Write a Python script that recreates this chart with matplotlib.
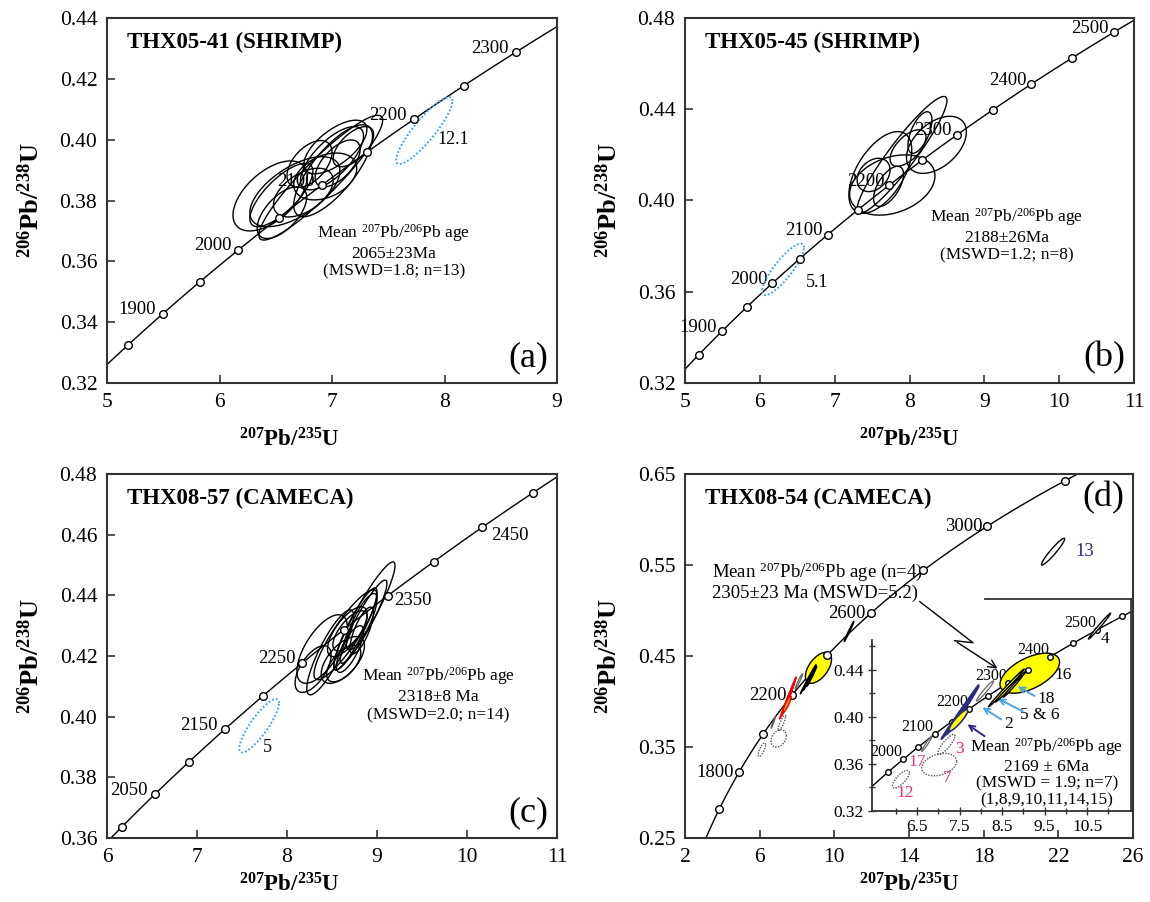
import numpy as np
import matplotlib
matplotlib.use("Agg")
import matplotlib.pyplot as plt

plt.rcParams['font.family'] = ['Liberation Serif', 'DejaVu Serif']
plt.rcParams['mathtext.fontset'] = 'custom'
plt.rcParams['mathtext.rm'] = 'Liberation Serif'
plt.rcParams['mathtext.bf'] = 'Liberation Serif:bold'
plt.rcParams['mathtext.it'] = 'Liberation Serif:italic'

# decay constants (per Ma) for the concordia curve
L238 = 1.55125e-4
L235 = 9.8485e-4

# ---- concordia marker ages and labelled ages ----
a_marks = [1850, 1900, 1950, 2000, 2050, 2100, 2150, 2200, 2250, 2300, 2350]
a_labels = [1900, 2000, 2100, 2200, 2300]
b_marks = [1850, 1900, 1950, 2000, 2050, 2100, 2150, 2200, 2250, 2300, 2350, 2400, 2450, 2500]
b_labels = [1900, 2000, 2100, 2200, 2300, 2400, 2500]
c_marks = [2000, 2050, 2100, 2150, 2200, 2250, 2300, 2350, 2400, 2450, 2500]
c_labels = [2050, 2150, 2250, 2350, 2450]
d_marks = [1600, 1800, 2000, 2200, 2400, 2600, 2800, 3000, 3200]
d_labels = [1800, 2200, 2600, 3000]
in_marks = [1950, 2000, 2050, 2100, 2150, 2200, 2250, 2300, 2350, 2400, 2450, 2500, 2550]
in_labels = [2000, 2100, 2200, 2300, 2400, 2500]

# ---- error ellipses: centre x, centre y, half-width x, half-width y, correlation ----
a_cx = [6.45, 6.90, 7.01, 6.67, 6.745, 7.00, 6.94, 7.19, 6.555, 6.55, 6.80, 7.05, 7.03]
a_cy = [0.3815, 0.3875, 0.3898, 0.3829, 0.3826, 0.3939, 0.3879, 0.3977, 0.3760, 0.3818, 0.3920, 0.3922, 0.3976]
a_sx = [0.33, 0.55, 0.35, 0.40, 0.265, 0.28, 0.28, 0.18, 0.22, 0.28, 0.20, 0.20, 0.28]
a_sy = [0.0115, 0.0205, 0.0151, 0.0115, 0.008, 0.0104, 0.0077, 0.0066, 0.0085, 0.0104, 0.0077, 0.0077, 0.0088]
a_rho = [0.55, 0.92, 0.75, 0.6, 0.5, 0.7, 0.35, 0.6, 0.6, 0.75, 0.5, 0.6, 0.65]
a_out = (7.82, 0.403, 0.25, 0.011, 0.88)   # spot 12.1

b_cx = [7.61, 7.77, 7.90, 8.36, 8.14, 7.52, 7.72, 7.98]
b_cy = [0.4123, 0.4068, 0.4200, 0.4244, 0.4298, 0.4112, 0.4062, 0.4230]
b_sx = [0.42, 0.57, 0.60, 0.40, 0.16, 0.22, 0.20, 0.24]
b_sy = [0.0179, 0.0132, 0.0256, 0.0125, 0.0091, 0.0073, 0.0088, 0.0080]
b_rho = [0.55, 0.3, 0.93, 0.45, 0.6, 0.3, 0.6, 0.6]
b_out = (6.31, 0.3698, 0.28, 0.0113, 0.85)   # spot 5.1

c_cx = [8.86, 8.85, 8.39, 8.48, 8.65, 8.76, 8.67, 8.70, 8.83, 8.62, 8.29, 8.83, 8.63, 8.70]
c_cy = [0.4332, 0.4313, 0.4223, 0.4212, 0.4270, 0.4289, 0.4280, 0.4223, 0.4313, 0.4187, 0.4157, 0.4284, 0.4175, 0.4283]
c_sx = [0.34, 0.26, 0.28, 0.26, 0.35, 0.24, 0.22, 0.15, 0.17, 0.24, 0.20, 0.13, 0.19, 0.19]
c_sy = [0.0178, 0.0137, 0.0113, 0.0140, 0.0148, 0.0135, 0.0082, 0.0077, 0.0093, 0.0077, 0.0077, 0.0077, 0.0060, 0.0066]
c_rho = [0.93, 0.92, 0.65, 0.85, 0.88, 0.9, 0.7, 0.75, 0.8, 0.6, 0.6, 0.75, 0.6, 0.7]
c_out = (7.69, 0.397, 0.22, 0.0088, 0.85)   # spot 5

# THX08-54 spots
d_mean_cx = [7.45, 7.55, 7.50, 7.60, 7.42, 7.52, 7.47]
d_mean_cy = [0.400, 0.405, 0.402, 0.407, 0.398, 0.403, 0.397]
d_mean_sx = [0.38, 0.40, 0.30, 0.35, 0.25, 0.33, 0.22]
d_mean_sy = [0.019, 0.021, 0.016, 0.020, 0.013, 0.018, 0.009]
d_mean_rho = [0.995, 0.995, 0.99, 0.995, 0.99, 0.993, 0.9]
d_old = {'16': (9.15, 0.437, 0.70, 0.017, 0.55),
         '5': (8.60, 0.4245, 0.42, 0.016, 0.995),
         '6': (8.70, 0.4255, 0.36, 0.013, 0.993),
         '18': (8.75, 0.4257, 0.22, 0.009, 0.99)}
d_thin = {'2': (8.10, 0.422, 0.20, 0.0085, 0.97),
          '17': (6.73, 0.3771, 0.12, 0.0065, 0.97)}
d_dotted = {'3': (7.19, 0.3765, 0.20, 0.0085, 0.85),
            '7': (7.02, 0.3594, 0.41, 0.0095, 0.3),
            '12': (6.12, 0.347, 0.20, 0.0075, 0.75)}
d_other = {'4': (10.79, 0.477, 0.26, 0.011, 0.99),
           '13': (21.72, 0.5647, 0.62, 0.0147, 0.95)}

W, H = 1150, 902
fig = plt.figure(figsize=(W / 100, H / 100), dpi=100)

SPINE = '#333333'
BLUE = '#4aa6e0'
NAVY = '#2b2b80'
PINK = '#e0307a'


def concordia(t):
    t = np.asarray(t, dtype=float)
    return np.exp(L235 * t) - 1, np.exp(L238 * t) - 1


def ellipse(ax, cx, cy, sx, sy, rho, fc='none', ec='k', lw=1.0, ls='-', z=3):
    t = np.linspace(0, 2 * np.pi, 240)
    x = cx + sx * np.cos(t)
    y = cy + sy * (rho * np.cos(t) + np.sqrt(1 - rho ** 2) * np.sin(t))
    ax.fill(x, y, facecolor=fc, edgecolor=ec, lw=lw, ls=ls, zorder=z)


def frame(ax, xlim, ylim, xticks, yticks, fs=15.5):
    ax.set_xlim(xlim)
    ax.set_ylim(ylim)
    ax.set_xticks(xticks)
    ax.set_yticks(yticks)
    for s in ax.spines.values():
        s.set_color(SPINE)
        s.set_linewidth(1.5)
    ax.tick_params(direction='in', length=6, width=1.2, color=SPINE, labelsize=fs, pad=7)


def draw_curve(ax, marks, labels, ms=5.5, off=(-7, 4), ha='right', fs=13.5, special=None):
    t = np.linspace(1000, 4000, 1500)
    x, y = concordia(t)
    ax.plot(x, y, color='k', lw=1.0, zorder=2)
    mx, my = concordia(marks)
    ax.plot(mx, my, 'o', ms=ms, mfc='white', mec='k', mew=1.0, zorder=4)
    for age in labels:
        lx, ly = concordia(age)
        o, h = off, ha
        if special and age in special:
            o, h = special[age]
        ax.annotate(str(age), xy=(lx, ly), xytext=o, textcoords='offset pixels',
                    ha=h, va='center', fontsize=fs, zorder=3)


def labels(ax, xlx, xly):
    ax.text(xlx, xly, r"$^{\mathbf{207}}$Pb/$^{\mathbf{235}}$U", transform=ax.transAxes,
            ha='center', va='center', fontsize=16.5, fontweight='bold')
    ax.text(-0.17, 0.5, r"$^{\mathbf{206}}$Pb/$^{\mathbf{238}}$U", transform=ax.transAxes,
            ha='center', va='center', fontsize=19, fontweight='bold', rotation=90)


def title(ax, txt, tag, tag_y):
    ax.text(0.045, 0.934, txt, transform=ax.transAxes, ha='left', va='center',
            fontsize=16.5, fontweight='bold')
    ax.text(0.98, tag_y, tag, transform=ax.transAxes, ha='right', va='center', fontsize=26)


def mean_text(ax, x, y, age_txt, mswd_txt, fs=12.5):
    ax.text(x, y, "Mean $^{207}$Pb/$^{206}$Pb age\n" + age_txt + "\n" + mswd_txt,
            ha='center', va='center', fontsize=fs, linespacing=1.15, zorder=5)


# ---------------- (a) ----------------
ax = fig.add_axes([107 / W, 1 - 383 / H, 450 / W, 365 / H])
frame(ax, (5, 9), (0.32, 0.44), [5, 6, 7, 8, 9], np.arange(0.32, 0.4401, 0.02))
ax.yaxis.set_major_formatter(matplotlib.ticker.FormatStrFormatter('%.2f'))
draw_curve(ax, a_marks, a_labels)
for i in range(len(a_cx)):
    ellipse(ax, a_cx[i], a_cy[i], a_sx[i], a_sy[i], a_rho[i])
ellipse(ax, *a_out, ec=BLUE, lw=1.4, ls=(0, (1, 1)))
ax.text(8.08, 0.400, "12.1", ha='center', va='center', fontsize=13)
mean_text(ax, 7.55, 0.3635, "2065±23Ma", "(MSWD=1.8; n=13)")
title(ax, "THX05-41 (SHRIMP)", "(a)", 0.07)
labels(ax, 0.404, -0.156)

# ---------------- (b) ----------------
ax = fig.add_axes([685 / W, 1 - 383 / H, 449 / W, 365 / H])
frame(ax, (5, 11), (0.32, 0.48), [5, 6, 7, 8, 9, 10, 11], [0.32, 0.36, 0.40, 0.44, 0.48])
ax.yaxis.set_major_formatter(matplotlib.ticker.FormatStrFormatter('%.2f'))
draw_curve(ax, b_marks, b_labels, off=(-5, 4))
for i in range(len(b_cx)):
    ellipse(ax, b_cx[i], b_cy[i], b_sx[i], b_sy[i], b_rho[i])
ellipse(ax, *b_out, ec=BLUE, lw=1.4, ls=(0, (1, 1)))
ax.text(6.77, 0.364, "5.1", ha='center', va='center', fontsize=13)
mean_text(ax, 9.30, 0.3849, "2188±26Ma", "(MSWD=1.2; n=8)")
title(ax, "THX05-45 (SHRIMP)", "(b)", 0.07)
labels(ax, 0.50, -0.156)

# ---------------- (c) ----------------
ax = fig.add_axes([107 / W, 1 - 838 / H, 450 / W, 364 / H])
frame(ax, (6, 11), (0.36, 0.48), [6, 7, 8, 9, 10, 11], np.arange(0.36, 0.4801, 0.02))
ax.yaxis.set_major_formatter(matplotlib.ticker.FormatStrFormatter('%.2f'))
draw_curve(ax, c_marks, c_labels,
           special={2350: ((6, -5), 'left'), 2450: ((9, -8), 'left')})
for i in range(len(c_cx)):
    ellipse(ax, c_cx[i], c_cy[i], c_sx[i], c_sy[i], c_rho[i])
ellipse(ax, *c_out, ec=BLUE, lw=1.4, ls=(0, (1, 1)))
ax.text(7.78, 0.3898, "5", ha='center', va='center', fontsize=13)
mean_text(ax, 9.685, 0.4074, "2318±8 Ma", "(MSWD=2.0; n=14)")
title(ax, "THX08-57 (CAMECA)", "(c)", 0.07)
labels(ax, 0.404, -0.129)

# ---------------- (d) main ----------------
ax = fig.add_axes([685 / W, 1 - 838 / H, 448 / W, 364 / H])
frame(ax, (2, 26), (0.25, 0.65), [2, 6, 10, 14, 18, 22, 26], [0.25, 0.35, 0.45, 0.55, 0.65])
ax.yaxis.set_major_formatter(matplotlib.ticker.FormatStrFormatter('%.2f'))
draw_curve(ax, d_marks, d_labels, off=(-5, 0))


def thx0854(ax, inset):
    for k, v in d_dotted.items():
        ellipse(ax, *v, ec='#555555', lw=1.0, ls=(0, (1, 1)))
    for k, v in d_thin.items():
        ellipse(ax, *v, ec='#666666', lw=0.9)
    for i in range(len(d_mean_cx)):
        p = (d_mean_cx[i], d_mean_cy[i], d_mean_sx[i], d_mean_sy[i], d_mean_rho[i])
        if inset:
            fc = 'yellow' if i == len(d_mean_cx) - 1 else 'none'
            ellipse(ax, *p, fc=fc, ec=NAVY, lw=1.2, z=4)
        else:
            ellipse(ax, *p, fc='#f7a21b', ec='red', lw=1.0, z=4)
    ellipse(ax, *d_old['16'], fc='yellow', ec='k', lw=1.0, z=3)
    for k in ['5', '6', '18']:
        ellipse(ax, *d_old[k], fc='yellow', ec='k', lw=1.0, z=4)
    ellipse(ax, *d_other['4'], fc='white', ec='k', lw=1.0, z=4)
    ellipse(ax, *d_other['13'], fc='white', ec='k', lw=1.0, z=4)


thx0854(ax, False)
ax.text(22.9, 0.5646, "13", color=NAVY, ha='left', va='center', fontsize=13.5)
ax.text(3.45, 0.5324, "Mean $^{207}$Pb/$^{206}$Pb age (n=4)\n2305±23 Ma (MSWD=5.2)",
        ha='left', va='center', fontsize=13.5, linespacing=1.1)
# zig-zag callout to the inset
ax.plot([14.58, 17.43, 16.45], [0.5097, 0.4646, 0.4668], color='k', lw=1.0, zorder=5)
ax.annotate("", xy=(18.86, 0.4346), xytext=(16.45, 0.4668),
            arrowprops=dict(arrowstyle='->', color='k', lw=1.0, mutation_scale=14))
title(ax, "THX08-54 (CAMECA)", "(d)", 0.934)
labels(ax, 0.50, -0.129)

# ---------------- (d) inset ----------------
axi = fig.add_axes([872 / W, 1 - 811 / H, 259 / W, 212 / H])
axi.patch.set_alpha(0)
axi.set_xlim(5.44, 11.53)
axi.set_ylim(0.32, 0.50)
axi.set_xticks([6.5, 7.5, 8.5, 9.5, 10.5])
axi.set_xticks([6, 7, 8, 9, 10, 11], minor=True)
axi.set_yticks([0.32, 0.36, 0.40, 0.44])
axi.set_yticks([0.34, 0.38, 0.42, 0.46], minor=True)
axi.yaxis.set_major_formatter(matplotlib.ticker.FormatStrFormatter('%.2f'))
for s in axi.spines.values():
    s.set_color(SPINE)
    s.set_linewidth(1.3)
axi.spines['left'].set_bounds(0.32, 0.465)
axi.spines['top'].set_bounds(8.09, 11.53)
axi.tick_params(which='major', direction='inout', length=6, width=1, color=SPINE, labelsize=12.5, pad=3)
axi.tick_params(which='minor', direction='inout', length=4, width=1, color=SPINE)
draw_curve(axi, in_marks, in_labels, ms=4, off=(-1, 7), fs=11.5)
thx0854(axi, True)
for k, (x, y) in {'16': (9.93, 0.4356), '18': (9.53, 0.415), '5 & 6': (9.39, 0.4013),
                  '2': (8.65, 0.3936), '4': (10.92, 0.4664)}.items():
    axi.text(x, y, k, ha='center', va='center', fontsize=12.5)
for k, (x, y) in {'3': (7.49, 0.3728), '17': (6.49, 0.362), '7': (7.2, 0.348),
                  '12': (6.22, 0.335)}.items():
    axi.text(x, y, k, color=PINK, ha='center', va='center', fontsize=12.5)
for (x0, y0), (x1, y1) in [((9.32, 0.4165), (8.81, 0.427)),
                           ((9.04, 0.4036), (8.34, 0.4165)),
                           ((8.53, 0.3965), (7.98, 0.4093))]:
    axi.annotate("", xy=(x1, y1), xytext=(x0, y0),
                 arrowprops=dict(arrowstyle='->', color=BLUE, lw=1.4, mutation_scale=10))
axi.annotate("", xy=(7.63, 0.3949), xytext=(8.14, 0.3822),
             arrowprops=dict(arrowstyle='->', color=NAVY, lw=1.4, mutation_scale=10))
axi.text(9.55, 0.353, "Mean $^{207}$Pb/$^{206}$Pb age\n2169 ± 6Ma\n(MSWD = 1.9; n=7)\n(1,8,9,10,11,14,15)",
         ha='center', va='center', fontsize=12.5, linespacing=1.05, zorder=5)

fig.savefig("out.png", dpi=100)
